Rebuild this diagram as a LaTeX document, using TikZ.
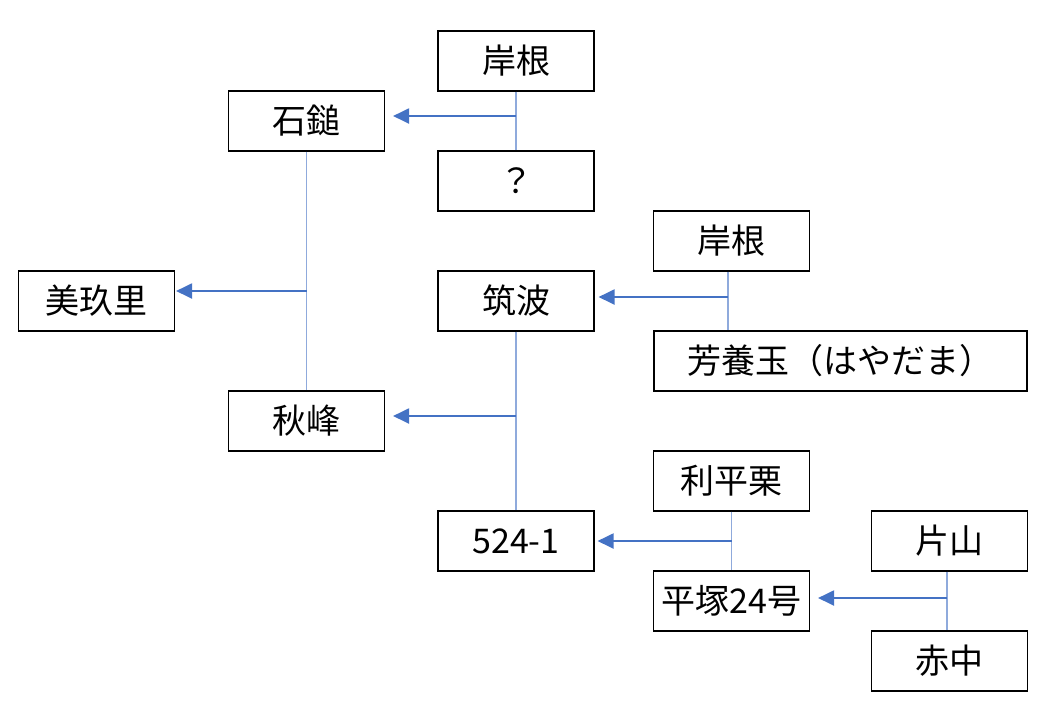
\documentclass[tikz,border=0pt]{standalone}
\usepackage{fontspec}
\setmainfont{Noto Sans CJK JP}
\usetikzlibrary{arrows.meta}
\begin{document}
\begin{tikzpicture}[x=1pt,y=-1pt,
  box/.style={draw=black,line width=1.1pt,minimum width=156pt,minimum height=60pt,inner sep=0pt,font=\fontsize{34}{40}\selectfont},
  link/.style={draw={rgb,255:red,143;green,170;blue,220},line width=1.3pt},
  arr/.style={draw={rgb,255:red,68;green,114;blue,196},line width=2pt,-{Triangle[length=16pt,width=15pt]}}]
\useasboundingbox (0,0) rectangle (1053,716);
\node[box] (kishineA) at (516,61) {岸根};
\node[box] (hatena) at (516,181) {？};
\node[box] (ishizuchi) at (306.5,121) {石鎚};
\node[box] (mikuri) at (96.5,301) {美玖里};
\node[box] (kishineB) at (731.5,241) {岸根};
\node[box] (tsukuba) at (516,301) {筑波};
\node[box,minimum width=373pt] (hayadama) at (840.5,361) {芳養玉（はやだま）};
\node[box] (shuho) at (306.5,421) {秋峰};
\node[box] (ritaiguri) at (731.5,481) {利平栗};
\node[box] (n5241) at (516,541) {524-1};
\node[box] (katayama) at (949.5,541) {片山};
\node[box] (hiratsuka) at (731.5,601) {平塚24号};
\node[box] (akanaka) at (949.5,661) {赤中};
% vertical links
\draw[link] (kishineA.south) -- (hatena.north);
\draw[link] (ishizuchi.south) -- (shuho.north);
\draw[link] ([xshift=-3.5pt]kishineB.south) -- ([xshift=-3.5pt]kishineB.south |- hayadama.north);
\draw[link] (tsukuba.south) -- (n5241.north);
\draw[link] (ritaiguri.south) -- (hiratsuka.north);
\draw[link] ([xshift=-2.5pt]katayama.south) -- ([xshift=-2.5pt]akanaka.north);
% arrow starts
\coordinate (sA) at (516,116);
\coordinate (sB) at (306.5,291);
\coordinate (sC) at (728,297);
\coordinate (sD) at (516,416);
\coordinate (sE) at (731.5,541);
\coordinate (sF) at (947,598);
\draw[arr] (sA) -- ([xshift=8pt]ishizuchi.east |- sA);
\draw[arr] (sB) -- ([xshift=1pt]mikuri.east |- sB);
\draw[arr] (sC) -- ([xshift=4pt]tsukuba.east |- sC);
\draw[arr] (sD) -- ([xshift=8pt]shuho.east |- sD);
\draw[arr] (sE) -- ([xshift=3pt]n5241.east |- sE);
\draw[arr] (sF) -- ([xshift=8pt]hiratsuka.east |- sF);
\end{tikzpicture}
\end{document}
